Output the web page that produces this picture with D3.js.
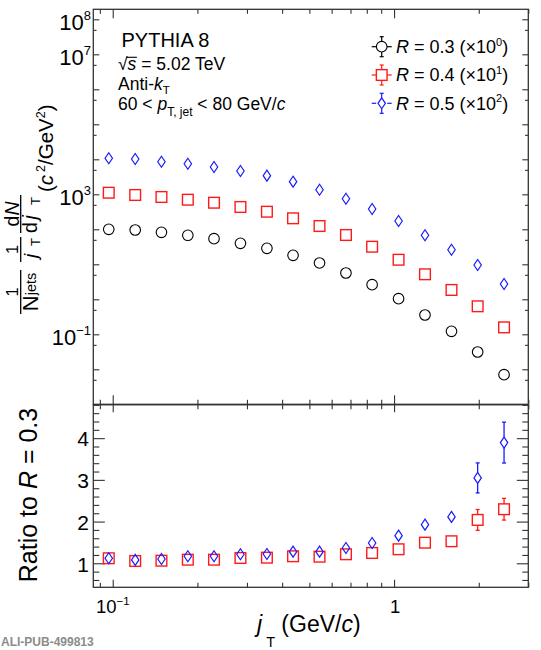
<!DOCTYPE html>
<html><head><meta charset="utf-8">
<script src="https://cdn.jsdelivr.net/npm/d3@7"></script>
<style>
body{margin:0;background:#fff;}
text{font-family:"Liberation Sans",Arial,Helvetica,sans-serif;fill:#000;}
</style></head><body>
<svg id="c" width="541" height="650"></svg>
<script>
// ---------------- data ----------------
const jT = [0.0968, 0.1202, 0.1490, 0.1849, 0.2291, 0.2844, 0.3532, 0.4375, 0.5433, 0.6745, 0.8356, 1.0375, 1.288, 1.600, 1.982, 2.460];
// unscaled spectra 1/Njets 1/jT dN/djT
const specR03 = [100, 95.5, 82.0, 67.5, 53.8, 39.8, 28.6, 18.1, 10.9, 5.64, 2.61, 1.04, 0.356, 0.122, 0.0312, 0.00702];
const specR04 = [111, 95.5, 83.8, 70.1, 57.5, 43.4, 31.8, 20.6, 12.4, 6.87, 3.18, 1.35, 0.518, 0.185, 0.0631, 0.0158];
const specR05 = [107, 102, 85.3, 74.8, 60.3, 46.3, 34.0, 22.9, 13.5, 7.48, 3.80, 1.73, 0.675, 0.261, 0.0955, 0.0274];
const scaleFactors = [1, 10, 100];
const scaleExponents = ["0", "1", "2"];
const radii = ["0.3", "0.4", "0.5"];
// ratios to R = 0.3
const ratioR04 = [1.12, 1.055, 1.062, 1.086, 1.086, 1.127, 1.135, 1.168, 1.158, 1.216, 1.247, 1.336, 1.494, 1.528, 2.04, 2.296];
const errR04   = [0.01, 0.01, 0.01, 0.01, 0.01, 0.01, 0.01, 0.02, 0.02, 0.02, 0.03, 0.04, 0.06, 0.09, 0.25, 0.26];
const ratioR05 = [1.12, 1.08, 1.103, 1.168, 1.168, 1.216, 1.223, 1.278, 1.278, 1.367, 1.487, 1.662, 1.926, 2.111, 3.047, 3.894];
const errR05   = [0.01, 0.01, 0.01, 0.01, 0.02, 0.02, 0.02, 0.02, 0.03, 0.04, 0.05, 0.07, 0.10, 0.12, 0.36, 0.49];
// axes
const xDomain = [0.0853, 3.0];
const yUpperDomain = [1e-3, 1.93e8];
const yLowerDomain = [0.424, 4.8];
const xMajor = [0.1, 1];
const xMinor = [0.09, 0.2, 0.3, 0.4, 0.5, 0.6, 0.7, 0.8, 0.9, 2, 3];
const xLabels = [{v: 0.1, base: "10", exp: "\u22121"}, {v: 1, base: "1", exp: ""}];
const yUpperMajor = [1e-3, 1e-2, 1e-1, 1, 1e1, 1e2, 1e3, 1e4, 1e5, 1e6, 1e7, 1e8];
const yUpperMinor = [5e-3, 5e-2, 5e-1, 5, 5e1, 5e2, 5e3, 5e4, 5e5, 5e6, 5e7];
const yUpperLabels = [{v: 1e8, exp: "8"}, {v: 1e7, exp: "7"}, {v: 1e3, exp: "3"}, {v: 1e-1, exp: "\u22121"}];
const yLowerMajor = [1, 2, 3, 4];
const yLowerMinor = [0.6, 0.8, 1.2, 1.4, 1.6, 1.8, 2.2, 2.4, 2.6, 2.8, 3.2, 3.4, 3.6, 3.8, 4.2, 4.4, 4.6, 4.8];

// ---------------- layout ----------------
const svg = d3.select("#c");
const X0 = 93.3, X1 = 528.3, YT = 9.3, YB = 404.3, LT = 404.8, LB = 587.3;
const AX = "#333";
const x = d3.scaleLog().domain(xDomain).range([X0, X1]);
const yU = d3.scaleLog().domain(yUpperDomain).range([YB, YT]);
const yL = d3.scaleLinear().domain(yLowerDomain).range([LB, LT]);

function ticks(gen, tr, vals, size) {
  svg.append("g").attr("transform", tr).attr("color", AX)
    .call(gen.tickValues(vals).tickSize(size).tickFormat(() => ""))
    .call(g => g.select(".domain").remove())
    .call(g => g.selectAll("line").attr("stroke-width", 1.1));
}
// upper pad
ticks(d3.axisBottom(x), `translate(0,${YB})`, xMajor, -9);
ticks(d3.axisBottom(x), `translate(0,${YB})`, xMinor, -4.5);
ticks(d3.axisTop(x), `translate(0,${YT})`, xMajor, -9);
ticks(d3.axisTop(x), `translate(0,${YT})`, xMinor, -4.5);
ticks(d3.axisLeft(yU), `translate(${X0},0)`, yUpperMajor, -6);
ticks(d3.axisLeft(yU), `translate(${X0},0)`, yUpperMinor, -3.3);
ticks(d3.axisRight(yU), `translate(${X1},0)`, yUpperMajor, -6);
ticks(d3.axisRight(yU), `translate(${X1},0)`, yUpperMinor, -3.3);
// lower pad
ticks(d3.axisTop(x), `translate(0,${LT})`, xMajor, -7.5);
ticks(d3.axisTop(x), `translate(0,${LT})`, xMinor, -4.5);
ticks(d3.axisBottom(x), `translate(0,${LB})`, xMajor, -7.5);
ticks(d3.axisBottom(x), `translate(0,${LB})`, xMinor, -4.5);
ticks(d3.axisLeft(yL), `translate(${X0},0)`, yLowerMajor, -11.5);
ticks(d3.axisLeft(yL), `translate(${X0},0)`, yLowerMinor, -6);
ticks(d3.axisRight(yL), `translate(${X1},0)`, yLowerMajor, -11.5);
ticks(d3.axisRight(yL), `translate(${X1},0)`, yLowerMinor, -6);

// frames
svg.append("rect").attr("x", X0).attr("y", YT).attr("width", X1 - X0).attr("height", YB - YT)
  .attr("fill", "none").attr("stroke", AX).attr("stroke-width", 1.3);
svg.append("rect").attr("x", X0).attr("y", LT).attr("width", X1 - X0).attr("height", LB - LT)
  .attr("fill", "none").attr("stroke", AX).attr("stroke-width", 1.3);

// tick labels
yUpperLabels.forEach(d => {
  const t = svg.append("text").attr("x", 91).attr("y", yU(d.v) + 10.5).attr("text-anchor", "end").attr("font-size", 22);
  t.append("tspan").text("10");
  t.append("tspan").attr("font-size", 13).attr("dy", -9.5).text(d.exp);
});
yLowerMajor.forEach(v => {
  svg.append("text").attr("x", 89).attr("y", yL(v) + 8.3).attr("text-anchor", "end").attr("font-size", 21).text(v);
});
xLabels.forEach(d => {
  const t = svg.append("text").attr("x", x(d.v) + (d.exp ? 0 : 1)).attr("y", 613).attr("text-anchor", "middle").attr("font-size", 18.5);
  t.append("tspan").text(d.base);
  if (d.exp) t.append("tspan").attr("font-size", 11.5).attr("dy", -8).text(d.exp);
});

// ---------------- markers ----------------
const styles = [
  {color: "#000", shape: "circle", sw: 1.1},
  {color: "#ff1a1a", shape: "square", sw: 1.4},
  {color: "#1a1aff", shape: "diamond", sw: 1.2}
];
const HALF = {circle: 5.3, square: 5.35, diamond: 5.5};
function marker(g, shape, cx, cy, st) {
  if (shape === "circle") {
    g.append("circle").attr("cx", cx).attr("cy", cy).attr("r", 5.3)
      .attr("fill", "none").attr("stroke", st.color).attr("stroke-width", st.sw);
  } else if (shape === "square") {
    g.append("rect").attr("x", cx - 5.35).attr("y", cy - 5.35).attr("width", 10.7).attr("height", 10.7)
      .attr("fill", "none").attr("stroke", st.color).attr("stroke-width", st.sw);
  } else {
    g.append("path").attr("d", `M${cx},${cy - 5.5}L${cx + 3.7},${cy}L${cx},${cy + 5.5}L${cx - 3.7},${cy}Z`)
      .attr("fill", "none").attr("stroke", st.color).attr("stroke-width", st.sw);
  }
}
const spectra = [specR03, specR04, specR05];
spectra.forEach((vals, i) => {
  const g = svg.append("g");
  vals.forEach((v, k) => marker(g, styles[i].shape, x(jT[k]), yU(v * scaleFactors[i]), styles[i]));
});

// ratio pad
const ratios = [{vals: ratioR04, errs: errR04, st: styles[1]}, {vals: ratioR05, errs: errR05, st: styles[2]}];
ratios.forEach(r => {
  const g = svg.append("g");
  r.vals.forEach((v, k) => {
    const cx = x(jT[k]), cy = yL(v), h = HALF[r.st.shape];
    const yHi = yL(v + r.errs[k]), yLo = yL(v - r.errs[k]);
    if (cy - yHi > h) {
      g.append("line").attr("x1", cx).attr("x2", cx).attr("y1", yHi).attr("y2", cy - h).attr("stroke", r.st.color).attr("stroke-width", 1.3);
      g.append("line").attr("x1", cx).attr("x2", cx).attr("y1", cy + h).attr("y2", yLo).attr("stroke", r.st.color).attr("stroke-width", 1.3);
      [yHi, yLo].forEach(yy => g.append("line").attr("x1", cx - 2).attr("x2", cx + 2).attr("y1", yy).attr("y2", yy).attr("stroke", r.st.color).attr("stroke-width", 1.3));
    }
    marker(g, r.st.shape, cx, cy, r.st);
  });
});

// ---------------- legend ----------------
const legY = [46.7, 75, 103.3];
radii.forEach((rv, i) => {
  const st = styles[i], cx = 381.7, cy = legY[i], h = HALF[st.shape];
  const g = svg.append("g");
  const segs = [[cx - 10, cy, cx - h, cy], [cx + h, cy, cx + 10, cy], [cx, cy - 10, cx, cy - h], [cx, cy + h, cx, cy + 10],
                [cx - 2, cy - 10, cx + 2, cy - 10], [cx - 2, cy + 10, cx + 2, cy + 10]];
  segs.forEach(s => g.append("line").attr("x1", s[0]).attr("y1", s[1]).attr("x2", s[2]).attr("y2", s[3]).attr("stroke", st.color).attr("stroke-width", 1.2));
  marker(g, st.shape, cx, cy, st);
  const t = svg.append("text").attr("x", 396).attr("y", cy + 6.4).attr("font-size", 18);
  t.append("tspan").attr("font-style", "italic").text("R");
  t.append("tspan").text(" = " + rv + " (\u00d710");
  t.append("tspan").attr("font-size", 11).attr("dy", -7.5).text(scaleExponents[i]);
  t.append("tspan").attr("dy", 7.5).text(")");
});

// ---------------- labels ----------------
svg.append("text").attr("x", 121.5).attr("y", 46.7).attr("font-size", 20).text("PYTHIA 8");
const sq = svg.append("text").attr("x", 118).attr("y", 70).attr("font-size", 17.5);
sq.append("tspan").text("\u221a");
sq.append("tspan").attr("font-style", "italic").text("s");
sq.append("tspan").text(" = 5.02 TeV");
{
  const node = sq.node();
  const s0 = node.getStartPositionOfChar(1).x, s1 = node.getEndPositionOfChar(1).x;
  svg.append("line").attr("x1", s0 - 1).attr("x2", s1 + 0.5).attr("y1", 57.3).attr("y2", 57.3).attr("stroke", "#000").attr("stroke-width", 1.1);
}
const ak = svg.append("text").attr("x", 118).attr("y", 90).attr("font-size", 17.5);
ak.append("tspan").text("Anti-");
ak.append("tspan").attr("font-style", "italic").text("k");
ak.append("tspan").attr("font-size", 11.5).attr("dy", 3.5).text("T");
const pt = svg.append("text").attr("x", 118).attr("y", 110).attr("font-size", 17.5);
pt.append("tspan").text("60 < ");
pt.append("tspan").attr("font-style", "italic").text("p");
pt.append("tspan").attr("font-size", 12).attr("dy", 5.5).text("T, jet");
pt.append("tspan").attr("dy", -5.5).text(" < 80 GeV/");
pt.append("tspan").attr("font-style", "italic").text("c");

// x title
const xt = svg.append("text").attr("x", 257).attr("y", 632).attr("font-size", 23);
xt.append("tspan").attr("font-style", "italic").text("j");
xt.append("tspan").attr("font-size", 14.5).attr("dx", 4).attr("dy", 15).text("T");
xt.append("tspan").attr("dy", -15).text(" (GeV/");
xt.append("tspan").attr("font-style", "italic").text("c");
xt.append("tspan").text(")");

// ratio title (rotated)
const rt = svg.append("g").attr("transform", "rotate(-90)");
const rtt = rt.append("text").attr("x", -495).attr("y", 37).attr("text-anchor", "middle").attr("font-size", 25);
rtt.append("tspan").text("Ratio to ");
rtt.append("tspan").attr("font-style", "italic").text("R");
rtt.append("tspan").text(" = 0.3");

// upper y title (rotated): local x = -screenY, local y = screenX
const yt = svg.append("g").attr("transform", "rotate(-90)");
function bar(u0, u1) { yt.append("line").attr("x1", -u0).attr("x2", -u1).attr("y1", 20.7).attr("y2", 20.7).attr("stroke", "#000").attr("stroke-width", 1.3); }
// 1 / N_jets
bar(314, 270);
yt.append("text").attr("x", -292).attr("y", 17.5).attr("text-anchor", "middle").attr("font-size", 16.5).text("1");
{
  const t = yt.append("text").attr("x", -292).attr("y", 38.3).attr("text-anchor", "middle").attr("font-size", 22);
  t.append("tspan").text("N");
  t.append("tspan").attr("font-size", 14.5).attr("dy", -2.3).text("jets");
}
// 1 / j_T
bar(262, 237);
yt.append("text").attr("x", -249.5).attr("y", 17.5).attr("text-anchor", "middle").attr("font-size", 16.5).text("1");
yt.append("text").attr("x", -258).attr("y", 36.5).attr("font-size", 19).attr("font-style", "italic").text("j");
yt.append("text").attr("x", -246).attr("y", 40).attr("font-size", 13).text("T");
// dN / dj_T
bar(233, 195);
{
  const t = yt.append("text").attr("x", -214).attr("y", 18.5).attr("text-anchor", "middle").attr("font-size", 19.5);
  t.append("tspan").text("d");
  t.append("tspan").attr("font-style", "italic").text("N");
}
yt.append("text").attr("x", -233).attr("y", 36.5).attr("font-size", 19.5).text("d");
yt.append("text").attr("x", -219.5).attr("y", 36.5).attr("font-size", 19.5).attr("font-style", "italic").text("j");
yt.append("text").attr("x", -205).attr("y", 40).attr("font-size", 13).text("T");
// (c^2/GeV^2)
{
  const t = yt.append("text").attr("x", -192).attr("y", 52.5).attr("font-size", 20.5);
  t.append("tspan").text("(");
  t.append("tspan").attr("font-style", "italic").text("c");
  t.append("tspan").attr("font-size", 12.5).attr("dx", 3).attr("dy", -8).text("2");
  t.append("tspan").attr("dy", 8).text("/GeV");
  t.append("tspan").attr("font-size", 12.5).attr("dy", -8).text("2");
  t.append("tspan").attr("dy", 8).text(")");
}

// watermark
svg.append("text").attr("x", 1).attr("y", 646).attr("font-family", "'Liberation Mono','DejaVu Sans Mono',monospace")
  .attr("font-weight", "bold").attr("font-size", 12).style("fill", "#8c8c8c").text("ALI-PUB-499813");
</script>
</body></html>
